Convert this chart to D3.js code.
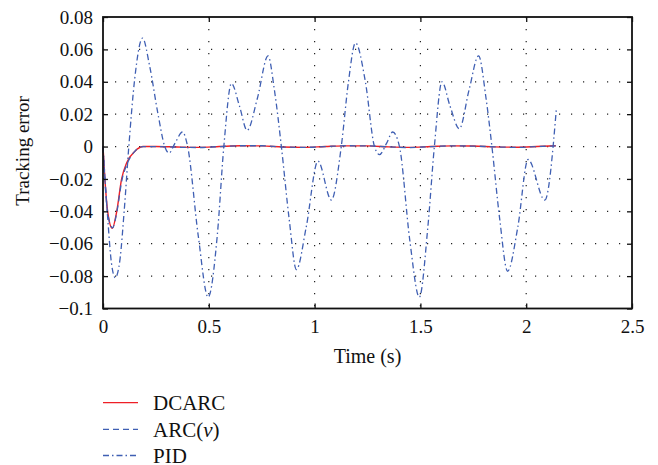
<!DOCTYPE html>
<html>
<head>
<meta charset="utf-8">
<script src="https://cdn.jsdelivr.net/npm/d3@7"></script>
<style>
body { margin: 0; background: #fff; }
text { font-family: "Liberation Serif", "Times New Roman", serif; fill: #111; }
</style>
</head>
<body>
<div class="canvas"></div>
<script>
// time axis values (s) and tracking error
var dcarc_t = [0, 0.009, 0.022, 0.044, 0.065, 0.088, 0.112, 0.15, 0.19, 0.25, 0.35, 0.45, 0.55, 0.65, 0.75, 0.85, 0.95, 1.05, 1.15, 1.25, 1.35, 1.45, 1.55, 1.65, 1.75, 1.85, 1.95, 2.05, 2.14];
var dcarc_v = [0, -0.02, -0.04, -0.0505, -0.04, -0.02, -0.01, -0.003, 0, 0, -0.0003, -0.0005, 0, 0.0005, 0.0004, -0.0003, -0.0005, 0, 0.0004, 0.0004, -0.0002, -0.0005, 0, 0.0004, 0.0003, -0.0002, -0.0004, 0, 0.0005];
var arc_t = [0, 0.009, 0.022, 0.045, 0.066, 0.089, 0.113, 0.15, 0.19, 0.25, 0.35, 0.45, 0.55, 0.65, 0.75, 0.85, 0.95, 1.05, 1.15, 1.25, 1.35, 1.45, 1.55, 1.65, 1.75, 1.85, 1.95, 2.05, 2.14];
var arc_v = [0, -0.021, -0.041, -0.0502, -0.04, -0.021, -0.011, -0.003, 0, 0, -0.0004, -0.0006, 0, 0.0005, 0.0005, -0.0003, -0.0005, 0, 0.0005, 0.0004, -0.0002, -0.0006, 0, 0.0004, 0.0003, -0.0002, -0.0005, 0, 0.0004];
var pid_t = [0, 0.02, 0.04, 0.058, 0.08, 0.1, 0.122, 0.15, 0.187, 0.22, 0.26, 0.292, 0.312, 0.34, 0.376, 0.40, 0.45, 0.497, 0.54, 0.571, 0.607, 0.645, 0.681, 0.73, 0.78, 0.81, 0.843, 0.88, 0.914, 0.96, 1.016, 1.079, 1.126, 1.16, 1.193, 1.24, 1.283, 1.307, 1.34, 1.369, 1.401, 1.45, 1.495, 1.535, 1.566, 1.602, 1.64, 1.684, 1.73, 1.775, 1.81, 1.838, 1.875, 1.912, 1.96, 2.009, 2.088, 2.143];
var pid_v = [0, -0.04, -0.072, -0.081, -0.07, -0.04, 0, 0.042, 0.067, 0.05, 0.02, 0, -0.004, 0.002, 0.009, 0, -0.055, -0.093, -0.055, 0, 0.039, 0.025, 0.01, 0.03, 0.056, 0.035, 0, -0.045, -0.076, -0.05, -0.009, -0.033, 0, 0.04, 0.064, 0.04, 0, -0.005, 0.002, 0.009, 0, -0.058, -0.093, -0.05, 0, 0.04, 0.025, 0.011, 0.035, 0.056, 0.03, 0, -0.045, -0.077, -0.05, -0.008, -0.033, 0.024];

var x_ticks = [0, 0.5, 1, 1.5, 2, 2.5];
var x_tick_labels = ["0", "0.5", "1", "1.5", "2", "2.5"];
var y_ticks = [0.08, 0.06, 0.04, 0.02, 0, -0.02, -0.04, -0.06, -0.08, -0.1];
var y_tick_labels = ["0.08", "0.06", "0.04", "0.02", "0", "\u22120.02", "\u22120.04", "\u22120.06", "\u22120.08", "\u22120.1"];
var series_names = ["DCARC", "ARC", "PID"];

var fig_width = 658;
var fig_height = 465;
var plot_left = 103, plot_right = 632, plot_top = 17, plot_bottom = 308.5;
var red = "#ee1f26";
var blue = "#3f5fb3";

var svg = d3.select("body div.canvas").append("svg")
	.attr("width", fig_width)
	.attr("height", fig_height);

var x = d3.scaleLinear().domain([0, 2.5]).range([plot_left, plot_right]);
var y = d3.scaleLinear().domain([-0.1, 0.08]).range([plot_bottom, plot_top]);

// dotted grid
x_ticks.forEach(function(t) {
	if (t == 0 || t == 2.5) return;
	svg.append("line")
		.attr("x1", x(t)).attr("x2", x(t))
		.attr("y1", plot_top).attr("y2", plot_bottom)
		.attr("stroke", "#222")
		.attr("stroke-width", 1.2)
		.attr("stroke-dasharray", "1.2,10.8");
});
y_ticks.forEach(function(t) {
	if (t == 0.08 || t == -0.1) return;
	svg.append("line")
		.attr("x1", plot_left).attr("x2", plot_right)
		.attr("y1", y(t)).attr("y2", y(t))
		.attr("stroke", "#222")
		.attr("stroke-width", 1.2)
		.attr("stroke-dasharray", "1.2,10.8");
});

function make_line(ts, vs) {
	var pts = ts.map(function(t, i) { return [t, vs[i]]; });
	return d3.line()
		.x(function(d) { return x(d[0]); })
		.y(function(d) { return y(d[1]); })
		.curve(d3.curveMonotoneX)(pts);
}

svg.append("path")
	.attr("d", make_line(dcarc_t, dcarc_v))
	.attr("fill", "none")
	.attr("stroke", red)
	.attr("stroke-width", 1.4);
svg.append("path")
	.attr("d", make_line(arc_t, arc_v))
	.attr("fill", "none")
	.attr("stroke", blue)
	.attr("stroke-width", 1.3)
	.attr("stroke-dasharray", "6,4");
svg.append("path")
	.attr("d", make_line(pid_t, pid_v))
	.attr("fill", "none")
	.attr("stroke", blue)
	.attr("stroke-width", 1.3)
	.attr("stroke-dasharray", "6,3,1.5,3");

// axes, ticks pointing inward
var xb = svg.append("g")
	.attr("transform", "translate(0," + plot_bottom + ")")
	.call(d3.axisBottom(x).tickValues(x_ticks)
		.tickFormat(function(d, i) { return x_tick_labels[i]; })
		.tickSizeInner(-5).tickSizeOuter(0).tickPadding(11));
var yl = svg.append("g")
	.attr("transform", "translate(" + plot_left + ",0)")
	.call(d3.axisLeft(y).tickValues(y_ticks)
		.tickFormat(function(d, i) { return y_tick_labels[i]; })
		.tickSizeInner(-5).tickSizeOuter(0).tickPadding(10));
var xt = svg.append("g")
	.attr("transform", "translate(0," + plot_top + ")")
	.call(d3.axisTop(x).tickValues(x_ticks).tickFormat("")
		.tickSizeInner(-5).tickSizeOuter(0));
var yr = svg.append("g")
	.attr("transform", "translate(" + plot_right + ",0)")
	.call(d3.axisRight(y).tickValues(y_ticks).tickFormat("")
		.tickSizeInner(-5).tickSizeOuter(0));
[xb, yl, xt, yr].forEach(function(g) {
	g.attr("font-family", "Liberation Serif").attr("font-size", 19);
	g.select(".domain").remove();
	g.selectAll(".tick line").attr("stroke", "#111").attr("stroke-width", 1.3);
	g.selectAll("text")
		.style("font-family", "'Liberation Serif', serif")
		.style("font-size", "19px")
		.attr("fill", "#111");
});

svg.append("rect")
	.attr("x", plot_left).attr("y", plot_top)
	.attr("width", plot_right - plot_left).attr("height", plot_bottom - plot_top)
	.attr("fill", "none")
	.attr("stroke", "#111")
	.attr("stroke-width", 1.8);

svg.append("text")
	.attr("x", x(1.25)).attr("y", 363)
	.attr("text-anchor", "middle")
	.style("font-size", "20px")
	.text("Time (s)");
svg.append("text")
	.attr("transform", "translate(29,151) rotate(-90)")
	.attr("text-anchor", "middle")
	.style("font-size", "19px")
	.text("Tracking error");

// legend
var legend_y = [402.7, 429.3, 455.5];
var legend_dash = [null, "6,4", "6,3,1.5,3"];
var legend_col = [red, blue, blue];
series_names.forEach(function(name, i) {
	var ln = svg.append("line")
		.attr("x1", 103).attr("x2", 138)
		.attr("y1", legend_y[i]).attr("y2", legend_y[i])
		.attr("stroke", legend_col[i])
		.attr("stroke-width", 1.3);
	if (legend_dash[i]) ln.attr("stroke-dasharray", legend_dash[i]);
	var tx = svg.append("text")
		.attr("x", 153).attr("y", legend_y[i] + 7.3)
		.style("font-size", "21px");
	if (name == "ARC") {
		tx.append("tspan").text("ARC(");
		tx.append("tspan").style("font-style", "italic").text("\u03bd");
		tx.append("tspan").text(")");
	} else {
		tx.text(name);
	}
});
</script>
</body>
</html>
